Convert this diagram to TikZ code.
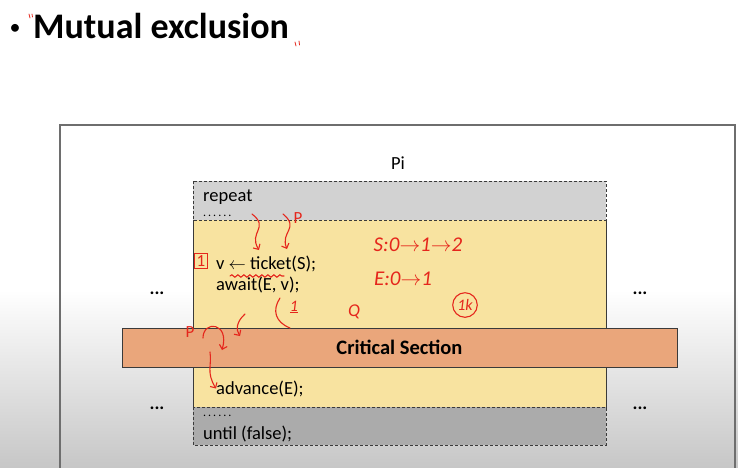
\documentclass[tikz,border=0pt]{standalone}
\usepackage{fontspec}
\setmainfont{Carlito}
\usepackage{tikz}
\usetikzlibrary{positioning,calc,arrows.meta,decorations.pathmorphing}
\definecolor{slGrey}{HTML}{D2D2D2}
\definecolor{slDark}{HTML}{ABABAB}
\definecolor{slYellow}{HTML}{F8E3A0}
\definecolor{slOrange}{HTML}{EAA67B}
\definecolor{slLine}{HTML}{3A3A3A}
\definecolor{slFrame}{HTML}{6E6E6E}
\definecolor{penRed}{HTML}{E5261C}
\newcommand{\smalldots}{{\fontsize{12}{12}\selectfont.\,.\,.\,.\,.\,.}}

\begin{document}
\begin{tikzpicture}[x=1pt,y=-1pt,font=\fontsize{18.5}{22}\selectfont,
  codeline/.style={anchor=base west,inner sep=0pt},
  loopbox/.style={draw=slLine,line width=1pt,dash pattern=on 3pt off 2pt},
  pen/.style={penRed,line width=1.1pt,line cap=round},
  pentext/.style={penRed,inner sep=0pt,font=\fontsize{21}{24}\selectfont\itshape}]
\useasboundingbox (0,0) rectangle (738,467);
\fill[white] (0,0) rectangle (738,467);
\shade[top color=white,bottom color=black!22] (0,290) rectangle (738,467);
% outer frame
\draw[slFrame,line width=1.2pt] (60,475) -- (60,125) -- (735,125) -- (735,475);
% title
\node[anchor=base west,inner sep=0pt] (title) at (33,38)
  {\fontsize{36}{40}\selectfont\bfseries Mutual exclusion};
\node[inner sep=0pt,font=\fontsize{22}{22}\selectfont] (bullet) at (15,29) {\textbullet};
\draw[pen,line width=0.8pt] (29,14) -- (30,18) (32,14) -- (32.5,17);
\draw[pen,line width=0.8pt] (295,42) -- (296,46) (299,41) -- (299.5,45);
\node (pi) at (398,163) {Pi};
% loop body
\fill[slYellow] (193,220) rectangle (606,407);
\draw[slLine,line width=1pt] (193,220) -- (193,407) -- (606,407) -- (606,220);
\filldraw[fill=slGrey,loopbox] (193,181) rectangle (606,220);
\filldraw[fill=slDark,loopbox] (193,407) rectangle (606,445);
\node[codeline] (rep) at (203,201) {repeat};
\node[codeline] (dotsA) at (203,216) {\smalldots};
\node[codeline] (tick) at (216,269) {v $\leftarrow$ ticket(S);};
\node[codeline] (await) at (216,290) {await(E, v);};
\node[draw=slLine,fill=slOrange,line width=1pt,minimum width=555pt,minimum height=39pt,
  font=\fontsize{20.5}{24}\selectfont\bfseries] (cs) at (399.5,347.5) {Critical Section};
\node[codeline] (adv) at (216,394) {advance(E);};
\node[codeline] (dotsB) at (203,416) {\smalldots};
\node[codeline] (until) at (203,439) {until (false);};
% other processes
\foreach \y [count=\i] in {293,408} {
  \node (pl\i) at (157,\y) {\textbf{...}};
  \node (pr\i) at (640,\y) {\textbf{...}};
}
% pen notes
\node[pentext] (snote) at (418,245) {S:0$\rightarrow$1$\rightarrow$2};
\node[pentext] (enote) at (403,279) {E:0$\rightarrow$1};
\node[pen,draw,inner sep=2pt,font=\fontsize{17}{18}\selectfont] (one) at (201,261) {1};
\node[pentext,font=\fontsize{17}{18}\selectfont] (pnote) at (298,218) {P};
\coordinate (ta) at (259,250);
\coordinate (tb) at (287,249);
\draw[pen,-{Straight Barb[length=4pt]}] (252,214) .. controls (270,228) and (248,232) .. (ta);
\draw[pen,-{Straight Barb[length=4pt]}] (283,214) .. controls (300,228) and (280,232) .. (tb);
\draw[pen,decorate,decoration={snake,amplitude=1.2pt,segment length=6pt}] (230,276) -- (284,276);
\node[pentext,font=\fontsize{16}{18}\selectfont\itshape] (oneb) at (294,307) {\underline{1}};
\draw[pen] (280,298) .. controls (272,310) and (275,322) .. (290,328);
\node[pentext,font=\fontsize{18}{18}\selectfont\itshape] (qnote) at (354,312) {Q};
\node[pen,draw,circle,inner sep=2pt,font=\fontsize{16}{16}\selectfont\itshape] (kk) at (465,305) {1k};
\node[pentext,font=\fontsize{17}{18}\selectfont] (pcs) at (190,332) {P};
\draw[pen,-{Straight Barb[length=4pt]}] (203,338) .. controls (203,320) and (230,322) .. (222,350);
\draw[pen,-{Straight Barb[length=4pt]}] (245,314) .. controls (236,322) and (236,330) .. (240,336);
\draw[pen,-{Straight Barb[length=4pt]}] (210,352) .. controls (212,366) and (206,372) .. (adv.west);
\end{tikzpicture}
\end{document}
